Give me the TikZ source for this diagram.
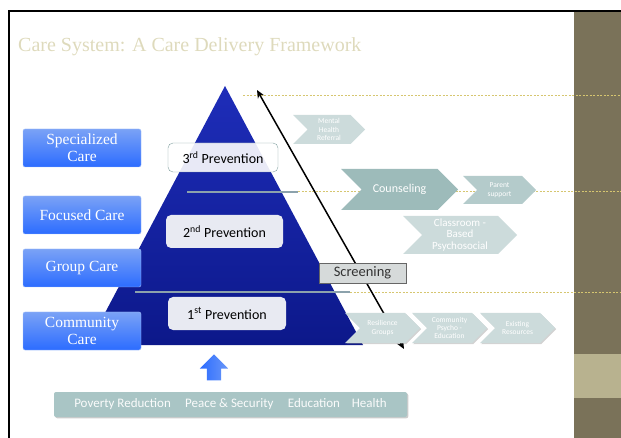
\documentclass[tikz,border=0pt]{standalone}
\usepackage{fontspec}
\setmainfont{Liberation Serif}
\newfontfamily\calib{Carlito}
\usepackage{tikz}
\usetikzlibrary{shapes.symbols,shapes.arrows,shadows,arrows.meta}

\definecolor{titlecol}{RGB}{222,218,188}
\definecolor{brownband}{RGB}{122,114,89}
\definecolor{khaki}{RGB}{184,178,143}
\definecolor{dashcol}{RGB}{214,198,112}
\definecolor{sepcol}{RGB}{140,162,172}
\definecolor{pyrtop}{RGB}{30,45,185}
\definecolor{pyrbot}{RGB}{12,24,138}
\definecolor{boxtop}{RGB}{122,162,246}
\definecolor{boxbot}{RGB}{44,108,255}
\definecolor{prevfill}{RGB}{232,234,242}
\definecolor{prevline}{RGB}{130,160,160}
\definecolor{chevlight}{RGB}{204,219,219}
\definecolor{chevmid}{RGB}{180,203,203}
\definecolor{chevdark}{RGB}{157,187,186}
\definecolor{screenfill}{RGB}{214,218,218}
\definecolor{barfill}{RGB}{169,197,197}

\tikzset{
  carebox/.style={rectangle, rounded corners=2pt, top color=boxtop, bottom color=boxbot,
    draw=boxtop!70!white, minimum width=118pt, minimum height=38pt, inner sep=1pt,
    text=white, align=center, font=\fontsize{15.5}{17}\selectfont},
  prevbox/.style={rectangle, rounded corners=5pt, fill=prevfill, minimum height=33pt,
    font=\calib\fontsize{14}{16}\selectfont},
  chev/.style={signal, signal from=west, signal to=east, fill=chevlight, text=white,
    align=center, inner sep=0pt, font=\calib\fontsize{7.5}{8.4}\selectfont},
  lowchev/.style={chev, minimum width=75pt, minimum height=30pt,
    drop shadow={shadow xshift=1.2pt, shadow yshift=-1.2pt, opacity=0.35}},
  dashline/.style={dashcol, dash pattern=on 2pt off 1.5pt, line width=0.75pt},
  sepline/.style={sepcol, line width=1.2pt}
}

\begin{document}
\begin{tikzpicture}[x=1pt,y=-1pt]
  \useasboundingbox (0,0) rectangle (621,438);
  % slide frame and side band
  \fill[brownband] (574,10) rectangle (621,438);
  \fill[khaki] (574,354) rectangle (621,398);
  \draw[line width=2pt] (9,438) -- (9,11) -- (621,11);
  \node[anchor=west, text=titlecol, font=\fontsize{20}{24}\selectfont, inner sep=0pt] (title) at (18,47) {Care System: A Care Delivery Framework};

  % pyramid
  \shade[top color=pyrtop, bottom color=pyrbot] (225,86) -- (363,345) -- (88,345) -- cycle;
  \draw[sepline] (187,192) -- (298,192);
  \draw[sepline] (135,292) -- (350,292);
  \draw[dashline] (243,95) -- (621,95);
  \draw[dashline] (298,191) -- (621,191);
  \draw[dashline] (350,292) -- (621,292);

  % screening axis
  \coordinate (top) at (257,90);
  \coordinate (bot) at (404,349);
  \draw[{Stealth[length=8pt,width=7pt]}-{Stealth[length=8pt,width=7pt]}, line width=1.5pt] (top) -- (bot);

  \node[carebox] (spec) at (82,148) {Specialized\\Care};
  \node[carebox] (focus) at (82,215) {Focused Care};
  \node[carebox] (group) at (82,268) {Group Care};
  \node[carebox] (comm) at (82,331) {Community\\Care};

  \node[prevbox, fill=white, fill opacity=0.9, text opacity=1, draw=prevline, minimum width=110pt, minimum height=29pt] (prev3) at (223,157.5) {3\textsuperscript{rd} Prevention};
  \node[prevbox, minimum width=117pt] (prev2) at (224.5,231.5) {2\textsuperscript{nd} Prevention};
  \node[prevbox, minimum width=118pt] (prev1) at (227,313.5) {1\textsuperscript{st} Prevention};

  \node[rectangle, fill=screenfill, draw=gray!80!black, line width=0.8pt, minimum width=87pt, minimum height=20pt, inner sep=0pt,
    font=\calib\fontsize{14.5}{16}\selectfont, text=black!80,
    drop shadow={shadow xshift=1.2pt, shadow yshift=-1.2pt, opacity=0.3}] (screen) at (362.5,273) {Screening};

  \node[chev, minimum width=72pt, minimum height=29pt] (mhr) at (329,129.5) {Mental\\Health\\Referral};
  \node[chev, fill=chevdark, minimum width=117pt, minimum height=41pt, font=\calib\fontsize{12}{14}\selectfont] (couns) at (399.5,189.5) {Counseling};
  \node[chev, fill=chevmid, minimum width=73pt, minimum height=28pt] (parent) at (499.5,190) {Parent\\support};
  \node[chev, minimum width=114pt, minimum height=38pt, font=\calib\fontsize{11}{11.7}\selectfont] (class) at (460,235) {Classroom -\\Based\\Psychosocial};

  \node[lowchev] (resil) at (382.5,328) {Resilience\\Groups};
  \node[lowchev] (cpe) at (449.5,328) {Community\\Psycho -\\Education};
  \node[lowchev] (exist) at (517.5,328) {Existing\\Resources};

  % foundations
  \node[single arrow, rotate=90, left color=boxbot, right color=boxtop!80!boxbot, inner xsep=0pt, inner ysep=7pt,
    minimum width=28pt, minimum height=26pt, single arrow head extend=7pt] (up) at (214,371) {};
  \node[rectangle, rounded corners=2pt, fill=barfill, minimum width=353pt, minimum height=25pt,
    text=white!94!barfill, font=\calib\fontsize{13}{15}\selectfont,
    drop shadow={shadow xshift=1.3pt, shadow yshift=-1.3pt, opacity=0.4}] (base) at (230.5,404.5)
    {Poverty Reduction\hspace{1.1em}Peace \& Security\hspace{1.1em}Education\hspace{0.9em}Health};
\end{tikzpicture}
\end{document}
